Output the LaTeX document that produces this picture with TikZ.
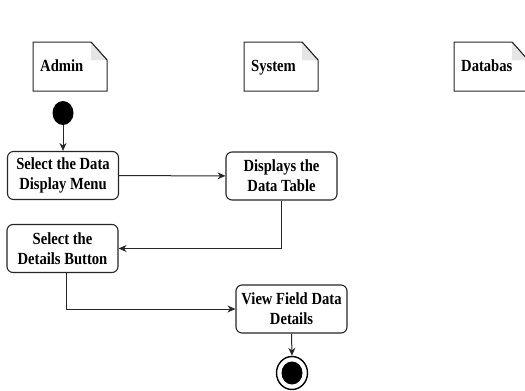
\documentclass[tikz,border=0pt]{standalone}
\usepackage{fontspec}
\newfontfamily\lblfont[FakeStretch=0.86]{Liberation Serif Bold}
\usetikzlibrary{arrows.meta,shapes.geometric}
\tikzset{
  act/.style={draw=black!85, line width=1.1pt, rounded corners=6pt, fill=white,
    minimum width=111pt, minimum height=48pt, align=center, inner sep=0pt,
    font=\lblfont\fontsize{17}{20}\selectfont},
  notebody/.style={draw=black!85, line width=1pt, fill=white},
  notefold/.style={fill=black!10},
  notetext/.style={anchor=base west, inner sep=0pt, font=\lblfont\fontsize{17}{20}\selectfont},
  flow/.style={draw=black!85, line width=1pt, -{Stealth[length=8pt,width=7pt]}},
}
\begin{document}
\begin{tikzpicture}[x=1pt,y=-1pt]
\useasboundingbox (0,0) rectangle (525,391);
\clip (0,0) rectangle (525,391);

% swimlane headers drawn as note shapes
\foreach \l/\t/\name in {33/Admin/admin, 244/System/system, 454/Databas/database}{
  \draw[notebody] (\l,42) -- (\l+58,42) -- (\l+74,60) -- (\l+74,91) -- (\l,91) -- cycle;
  \fill[notefold] (\l+58,42) -- (\l+74,60) -- (\l+58,60) -- cycle;
  \draw[black!85, line width=1pt] (\l+58,42) -- (\l+74,60);
  \node[notetext] (\name) at (\l+7,71) {\t};
}

% initial and final states
\node[draw=none, fill=black, ellipse, minimum width=21pt, minimum height=24pt, inner sep=0pt] (start) at (63,113) {};
\node[ellipse, draw=black, line width=1.4pt, fill=white, minimum width=31pt, minimum height=33pt, inner sep=0pt] (final) at (292,373) {};
\node[ellipse, fill=black, minimum width=21pt, minimum height=23pt, inner sep=0pt] (finalin) at (final) {};

% activities
\node[act] (a1) at (63,175.5) {Select the Data\\Display Menu};
\node[act] (a2) at (281.5,176) {Displays the\\Data Table};
\node[act] (a3) at (62.5,248.5) {Select the\\Details Button};
\node[act] (a4) at (291.5,309) {View Field Data\\Details};

% control flow
\draw[flow] (start) -- (a1);
\draw[flow] (a1) -- (a2);
\draw[flow] (a2.south) |- (a3.east);
\draw[flow] ([xshift=3.5pt]a3.south) |- (a4.west);
\draw[flow] (a4.south) -- (final.north);
\end{tikzpicture}
\end{document}
